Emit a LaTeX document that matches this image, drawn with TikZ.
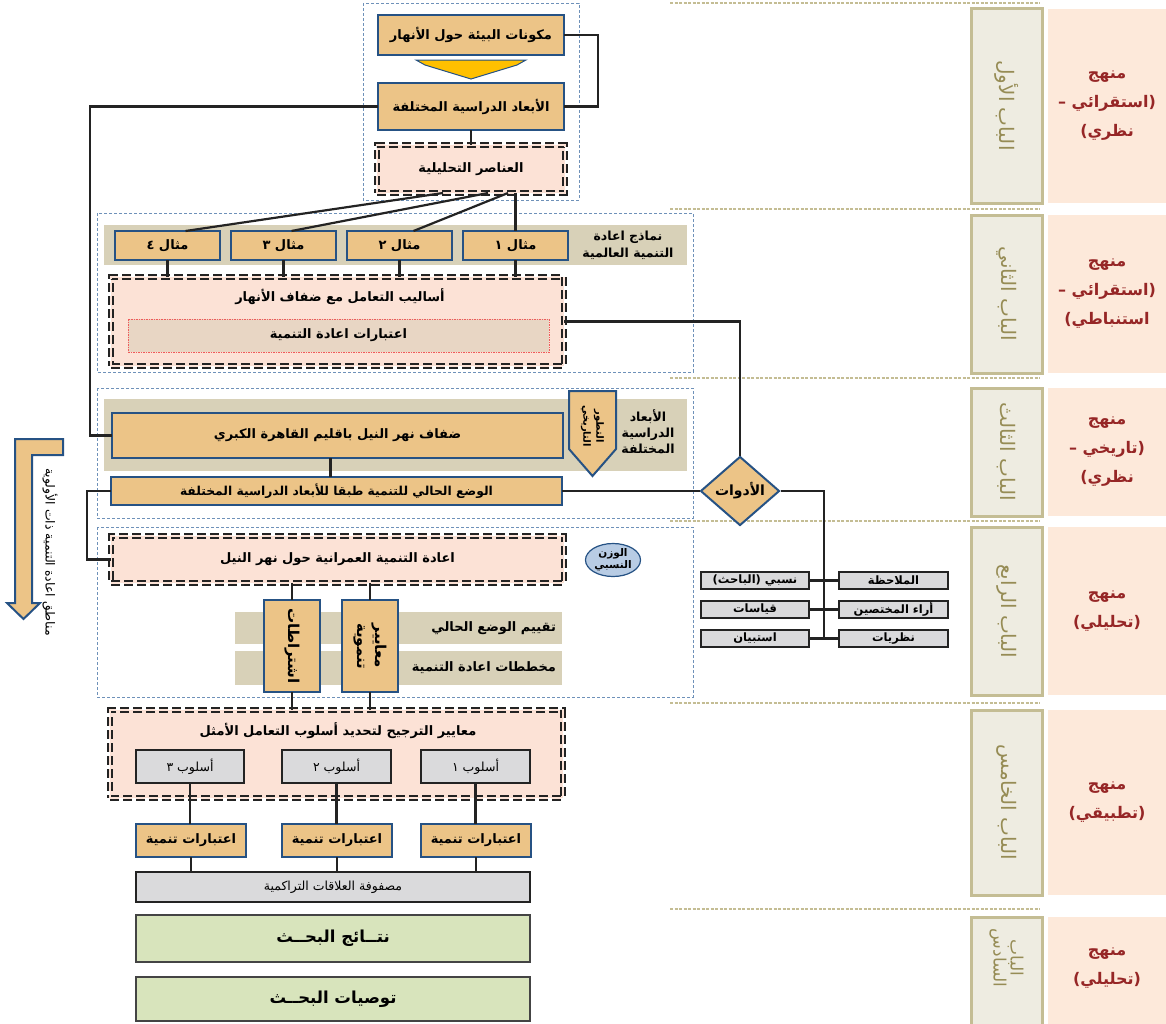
\documentclass[tikz,border=0pt]{standalone}
\usepackage{fontspec}
\setmainfont{DejaVu Sans}
\newfontfamily\arf[Script=Arabic]{DejaVu Sans}
\TeXXeTstate=1
\usetikzlibrary{shapes.geometric,calc}
\definecolor{tanf}{RGB}{236,196,135}
\definecolor{bblue}{RGB}{38,82,132}
\definecolor{pinkf}{RGB}{252,226,214}
\definecolor{bandf}{RGB}{216,209,184}
\definecolor{grayf}{RGB}{218,218,220}
\definecolor{greenf}{RGB}{216,228,188}
\definecolor{contc}{RGB}{110,145,185}
\definecolor{chapf}{RGB}{238,236,225}
\definecolor{chapb}{RGB}{196,189,148}
\definecolor{chapt}{RGB}{150,140,85}
\definecolor{panf}{RGB}{253,233,218}
\definecolor{pant}{RGB}{150,38,38}
\definecolor{goldf}{RGB}{255,192,0}
\definecolor{ellf}{RGB}{184,204,228}
\definecolor{innerf}{RGB}{232,214,196}
\definecolor{redd}{RGB}{240,90,90}
\definecolor{linec}{RGB}{35,35,35}
\newcommand\ART[1]{\beginR#1\endR}
\newcommand\bx[7]{\node[#6,minimum width={(#4)-(#2)},minimum height={(#5)-(#3)}] (#1) at ({((#2)+(#4))/2},{((#3)+(#5))/2}) {#7};}
\tikzset{
 base/.style={inner sep=0pt,outer sep=0pt,align=center},
 tanbox/.style={base,draw=bblue,line width=2pt,fill=tanf,font=\arf\bfseries\fontsize{13}{15}\selectfont},
 pinkbox/.style={base,fill=pinkf,draw=linec,double=pinkf,double distance=2.2pt,line width=1.5pt,dash pattern=on 9pt off 4pt,font=\arf\bfseries\fontsize{13}{15}\selectfont},
 graybox/.style={base,fill=grayf,draw=linec,line width=1.8pt,font=\arf\fontsize{12.5}{14}\selectfont},
 toolbox/.style={base,fill=grayf,draw=linec,line width=1.6pt,font=\arf\bfseries\fontsize{11.5}{13}\selectfont},
 greenbox/.style={base,fill=greenf,draw=linec!85,line width=2pt,font=\arf\bfseries\fontsize{16.5}{18}\selectfont},
 innerbox/.style={base,fill=innerf,draw=redd,line width=0.6pt,dash pattern=on 1.5pt off 1pt,font=\arf\bfseries\fontsize{13}{15}\selectfont},
 bandbox/.style={base,fill=bandf},
 cont/.style={draw=contc,line width=0.9pt,dash pattern=on 3pt off 2pt},
 sepl/.style={draw=chapb,line width=1.2pt,dash pattern=on 3pt off 1.5pt},
 chapbox/.style={base,fill=chapf,draw=chapb,line width=3pt},
 chaptxt/.style={base,rotate=-90,text=chapt,font=\arf\fontsize{20}{22}\selectfont},
 panbox/.style={base,fill=panf,text=pant,font=\arf\bfseries\fontsize{16}{29}\selectfont},
 conn/.style={draw=linec,line width=2.2pt},
 lbl/.style={base,font=\arf\bfseries\fontsize{13}{15}\selectfont},
 rottxt/.style={base,rotate=-90,font=\arf\bfseries\fontsize{15}{18}\selectfont},
}
\begin{document}
\begin{tikzpicture}[x=1pt,y=-1pt]
\useasboundingbox (0,0) rectangle (1166,1023);
% right-hand separators
\foreach \yy in {3,209,378,521,703,909} \draw[sepl] (670,\yy) -- (1040,\yy);
% chapter boxes
\bx{ch1}{971}{8}{1042}{203}{chapbox}{}
\bx{ch2}{971}{215}{1042}{373}{chapbox}{}
\bx{ch3}{971}{388}{1042}{516}{chapbox}{}
\bx{ch4}{971}{527}{1042}{695}{chapbox}{}
\bx{ch5}{971}{710}{1042}{895}{chapbox}{}
\bx{ch6}{971}{917}{1042}{1035}{chapbox}{}
\node[chaptxt] (ch1t) at (ch1) {\ART{الباب الأول}};
\node[chaptxt] (ch2t) at (ch2) {\ART{الباب الثاني}};
\node[chaptxt] (ch3t) at (ch3) {\ART{الباب الثالث}};
\node[chaptxt] (ch4t) at (ch4) {\ART{الباب الرابع}};
\node[chaptxt] (ch5t) at (ch5) {\ART{الباب الخامس}};
\node[chaptxt,font=\arf\fontsize{17}{17}\selectfont] (ch6t) at (1006.5,958) {\ART{الباب}\\\ART{السادس}};
% method panels
\bx{pn1}{1048}{9}{1166}{203}{panbox}{\ART{منهج}\\\ART{(استقرائي –}\\\ART{نظري)}}
\bx{pn2}{1048}{215}{1166}{373}{panbox}{\ART{منهج}\\\ART{(استقرائي –}\\\ART{استنباطي)}}
\bx{pn3}{1048}{388}{1166}{516}{panbox}{\ART{منهج}\\\ART{(تاريخي –}\\\ART{نظري)}}
\bx{pn4}{1048}{527}{1166}{695}{panbox}{\ART{منهج}\\\ART{(تحليلي)}}
\bx{pn5}{1048}{710}{1166}{895}{panbox}{\ART{منهج}\\\ART{(تطبيقي)}}
\bx{pn6}{1048}{917}{1166}{1035}{panbox}{}
\node[panbox] (pn6t) at (1107,968) {\ART{منهج}\\\ART{(تحليلي)}};
% containers
\draw[cont] (363,3) rectangle (579,200);
\draw[cont] (97,213) rectangle (693,372);
\draw[cont] (97,388) rectangle (693,518);
\draw[cont] (97,527) rectangle (693,697);
% section 1
\bx{mk}{378}{15}{564}{55}{tanbox}{\ART{مكونات البيئة حول الأنهار}}
\draw[fill=goldf,draw=bblue,line width=1pt] (416,60) -- (526,60) -- (517,65) -- (471,79) -- (425,65) -- cycle;
\bx{ab}{378}{83}{564}{130}{tanbox}{\ART{الأبعاد الدراسية المختلفة}}
\bx{an}{377}{145}{565}{193}{pinkbox}{\ART{العناصر التحليلية}}
% section 2
\bx{nb}{104}{225}{687}{265}{bandbox}{}
\node[lbl,font=\arf\bfseries\fontsize{12.5}{17}\selectfont] (nbt) at (628,245) {\ART{نماذج اعادة}\\\ART{التنمية العالمية}};
\bx{m4}{115}{231}{220}{260}{tanbox}{\ART{مثال ٤}}
\bx{m3}{231}{231}{336}{260}{tanbox}{\ART{مثال ٣}}
\bx{m2}{347}{231}{452}{260}{tanbox}{\ART{مثال ٢}}
\bx{m1}{463}{231}{568}{260}{tanbox}{\ART{مثال ١}}
\bx{as}{111}{277}{564}{366}{pinkbox}{}
\node[lbl] (ast) at (340,297) {\ART{أساليب التعامل مع ضفاف الأنهار}};
\bx{ai}{128}{319}{549}{352}{innerbox}{\ART{اعتبارات اعادة التنمية}}
% section 3
\bx{b3}{104}{399}{687}{471}{bandbox}{}
\bx{df}{112}{413}{563}{458}{tanbox}{\ART{ضفاف نهر النيل باقليم القاهرة الكبري}}
\draw[fill=tanf,draw=bblue,line width=2pt] (569,391) -- (616,391) -- (616,449) -- (592.5,476) -- (569,449) -- cycle;
\node[base,rotate=-90,font=\arf\bfseries\fontsize{10}{13}\selectfont] (tt) at (592.5,426) {\ART{التطور}\\\ART{التاريخي}};
\node[lbl,font=\arf\bfseries\fontsize{12.5}{16}\selectfont] (abd) at (648,432) {\ART{الأبعاد}\\\ART{الدراسية}\\\ART{المختلفة}};
\bx{wd}{111}{477}{562}{505}{tanbox,font=\arf\bfseries\fontsize{12.3}{14}\selectfont}{\ART{الوضع الحالي للتنمية طبقا للأبعاد الدراسية المختلفة}}
\node[shape=diamond,draw=bblue,line width=2pt,fill=tanf,minimum width=79pt,minimum height=69pt,inner sep=0pt,font=\arf\bfseries\fontsize{14}{16}\selectfont] (dia) at (740,491) {\ART{الأدوات}};
\bx{t1}{701}{572}{809}{589}{toolbox}{\ART{نسبي (الباحث)}}
\bx{t2}{701}{601}{809}{618}{toolbox}{\ART{قياسات}}
\bx{t3}{701}{630}{809}{647}{toolbox}{\ART{استبيان}}
\bx{r1}{839}{572}{948}{589}{toolbox}{\ART{الملاحظة}}
\bx{r2}{839}{601}{948}{618}{toolbox}{\ART{أراء المختصين}}
\bx{r3}{839}{630}{948}{647}{toolbox}{\ART{نظريات}}
% section 4
\bx{ea}{111}{536}{564}{583}{pinkbox}{\ART{اعادة التنمية العمرانية حول نهر النيل}}
\node[ellipse,draw=bblue,line width=1.2pt,fill=ellf,minimum width=55pt,minimum height=33pt,inner sep=0pt,align=center,font=\arf\bfseries\fontsize{10.5}{12}\selectfont] (wz) at (613,560) {\ART{الوزن}\\\ART{النسبي}};
\bx{ba}{235}{612}{562}{644}{bandbox}{}
\bx{bb}{235}{651}{562}{685}{bandbox}{}
\node[lbl,anchor=east] (bat) at ([xshift=-6]ba.east) {\ART{تقييم الوضع الحالي}};
\node[lbl,anchor=east] (bbt) at ([xshift=-6]bb.east) {\ART{مخططات اعادة التنمية}};
\bx{is}{264}{600}{320}{692}{tanbox}{}
\node[rottxt] (ist) at (is) {\ART{اشتراطات}};
\bx{ma}{342}{600}{398}{692}{tanbox}{}
\node[rottxt] (mat) at (ma) {\ART{معايير}\\\ART{تنموية}};
% section 5
\bx{tr}{110}{710}{563}{798}{pinkbox}{}
\node[lbl] (trt) at (338,731) {\ART{معايير الترجيح لتحديد أسلوب التعامل الأمثل}};
\bx{u3}{136}{750}{244}{783}{graybox}{\ART{أسلوب ٣}}
\bx{u2}{282}{750}{391}{783}{graybox}{\ART{أسلوب ٢}}
\bx{u1}{421}{750}{530}{783}{graybox}{\ART{أسلوب ١}}
\bx{i3}{136}{824}{246}{857}{tanbox}{\ART{اعتبارات تنمية}}
\bx{i2}{282}{824}{392}{857}{tanbox}{\ART{اعتبارات تنمية}}
\bx{i1}{421}{824}{531}{857}{tanbox}{\ART{اعتبارات تنمية}}
\bx{mf}{136}{872}{530}{902}{graybox}{\ART{مصفوفة العلاقات التراكمية}}
\bx{nt}{136}{915}{530}{962}{greenbox}{\ART{نتــائج البحــث}}
\bx{tw}{136}{977}{530}{1021}{greenbox}{\ART{توصيات البحــث}}
% left block arrow
\draw[fill=tanf,draw=bblue,line width=2pt] (15,439) -- (63,439) -- (63,455) -- (32,455) -- (32,603) -- (40,603) -- (23.5,619) -- (7,603) -- (15,603) -- cycle;
\node[base,rotate=-90,font=\arf\fontsize{12.5}{15}\selectfont] (arl) at (50,552) {\ART{مناطق اعادة التنمية ذات الأولوية}};
% connectors
\coordinate (lx) at (90,0);
\coordinate (bx2) at (87,0);
\draw[conn] (mk.east) -- ++(34,0) |- (ab.east);
\draw[conn] (ab.south) -- (an.north);
\draw[conn] (ab.west) -- (ab.west -| lx) |- (df.west);
\draw[conn] ([xshift=-28]an.south) -- ([xshift=18]m4.north);
\draw[conn] ([xshift=17]an.south) -- ([xshift=8]m3.north);
\draw[conn] ([xshift=37]an.south) -- ([xshift=14]m2.north);
\draw[conn] (m1.north |- an.south) -- (m1.north);
\foreach \m in {m1,m2,m3,m4} \draw[conn] (\m.south) -- (\m.south |- as.north);
\draw[conn] (as.east) -| (dia.north);
\draw[conn] ([xshift=-7]df.south) -- ([xshift=-7]df.south |- wd.north);
\draw[conn] (wd.east) -- (dia.west);
\draw[conn] (wd.west) -- (wd.west -| bx2) |- (ea.west);
\draw[conn] (dia.east) -| ($(t3.east)!.5!(r3.west)$);
\foreach \i in {1,2,3} \draw[conn] (t\i.east) -- (r\i.west);
\draw[conn] (is.north |- ea.south) -- (is.north);
\draw[conn] (ma.north |- ea.south) -- (ma.north);
\draw[conn] (is.south) -- (is.south |- tr.north);
\draw[conn] (ma.south) -- (ma.south |- tr.north);
\foreach \k in {1,2,3} {
  \draw[conn] (u\k.south) -- (u\k.south |- i\k.north);
  \draw[conn] (i\k.south) -- (i\k.south |- mf.north);
}
\end{tikzpicture}
\end{document}
